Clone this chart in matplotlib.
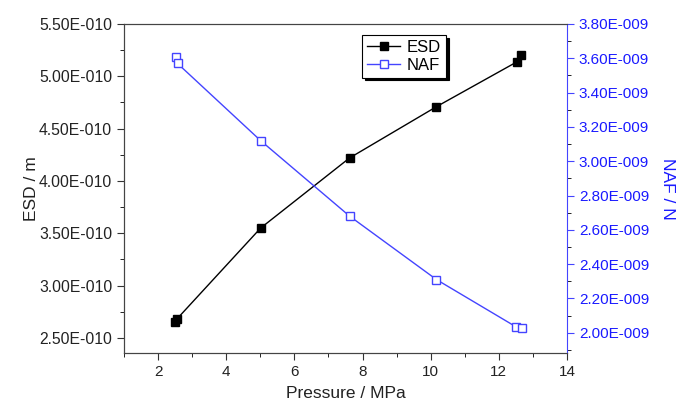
import matplotlib
matplotlib.use("Agg")
import matplotlib.pyplot as plt
from matplotlib.ticker import FixedLocator, FixedFormatter, NullFormatter

plt.rcParams['font.family'] = ['Liberation Sans', 'DejaVu Sans']

esd_x = [2.50, 2.55, 5.01, 7.62, 10.17, 12.54, 12.66]
esd_y = [2.65e-10, 2.68e-10, 3.55e-10, 4.22e-10, 4.71e-10, 5.14e-10, 5.20e-10]
naf_x = [2.52, 2.57, 5.01, 7.62, 10.17, 12.50, 12.68]
naf_y = [3.61e-9, 3.57e-9, 3.12e-9, 2.68e-9, 2.31e-9, 2.035e-9, 2.026e-9]

x_ticks = [2, 4, 6, 8, 10, 12, 14]
x_minor = [1, 3, 5, 7, 9, 11, 13]
left_ticks = [2.5e-10, 3.0e-10, 3.5e-10, 4.0e-10, 4.5e-10, 5.0e-10, 5.5e-10]
left_labels = ['2.50E-010', '3.00E-010', '3.50E-010', '4.00E-010',
               '4.50E-010', '5.00E-010', '5.50E-010']
left_minor = [2.75e-10, 3.25e-10, 3.75e-10, 4.25e-10, 4.75e-10, 5.25e-10]
right_ticks = [2.0e-9, 2.2e-9, 2.4e-9, 2.6e-9, 2.8e-9, 3.0e-9, 3.2e-9,
               3.4e-9, 3.6e-9, 3.8e-9]
right_labels = ['2.00E-009', '2.20E-009', '2.40E-009', '2.60E-009',
                '2.80E-009', '3.00E-009', '3.20E-009', '3.40E-009',
                '3.60E-009', '3.80E-009']
right_minor = [1.9e-9, 2.1e-9, 2.3e-9, 2.5e-9, 2.7e-9, 2.9e-9, 3.1e-9,
               3.3e-9, 3.5e-9, 3.7e-9]

fig = plt.figure(figsize=(6.81, 4.05), dpi=100)
ax = fig.add_axes([124/681, 1-353/405, (567-124)/681, (353-24)/405])
ax2 = ax.twinx()

blue_text = '#1a1aff'
blue_line = '#4444ff'

l1, = ax.plot(esd_x, esd_y, color='black', lw=1, marker='s', ms=5.5,
              mfc='black', mec='black', label='ESD')
l2, = ax2.plot(naf_x, naf_y, color=blue_line, lw=1, marker='s', ms=5.5,
               mfc='white', mec=blue_line, mew=1, label='NAF')

ax.set_xlim(1, 14)
ax.set_ylim(2.356e-10, 5.5e-10)
ax2.set_ylim(1.882e-9, 3.8e-9)

ax.xaxis.set_major_locator(FixedLocator(x_ticks))
ax.xaxis.set_minor_locator(FixedLocator(x_minor))
ax.yaxis.set_major_locator(FixedLocator(left_ticks))
ax.yaxis.set_major_formatter(FixedFormatter(left_labels))
ax.yaxis.set_minor_locator(FixedLocator(left_minor))
ax.yaxis.set_minor_formatter(NullFormatter())
ax2.yaxis.set_major_locator(FixedLocator(right_ticks))
ax2.yaxis.set_major_formatter(FixedFormatter(right_labels))
ax2.yaxis.set_minor_locator(FixedLocator(right_minor))
ax2.yaxis.set_minor_formatter(NullFormatter())
ax2.xaxis.set_visible(False)

for a in (ax, ax2):
    a.tick_params(which='both', direction='out', labelsize=11.3)
    a.tick_params(which='major', length=5)
    a.tick_params(which='minor', length=3)

ax.tick_params(axis='both', colors='#333333', labelcolor='#222222')
ax.tick_params(axis='x', labelsize=11)
ax2.tick_params(axis='y', colors=blue_line, labelcolor=blue_text, labelsize=11)
for s in ['left', 'bottom', 'top']:
    ax2.spines[s].set_color('#444444')
ax2.spines['right'].set_color(blue_line)
for s in ['left', 'bottom', 'top']:
    ax.spines[s].set_color('#444444')
ax.spines['right'].set_visible(False)

ax.set_xlabel('Pressure / MPa', fontsize=12.5, color='#222222', labelpad=5)
ax.set_ylabel('ESD / m', fontsize=12.5, color='#222222', labelpad=0)
ax2.set_ylabel('NAF / N', fontsize=12.5, color=blue_text, rotation=-90, labelpad=19)

leg = ax2.legend(handles=[l1, l2], loc='upper left',
                 bbox_to_anchor=((362-124)/443, (353-35)/329),
                 fontsize=12, frameon=True, fancybox=False,
                 shadow={'color': 'black', 'alpha': 1},
                 handlelength=2.0, handletextpad=0.4, borderpad=0.3,
                 labelspacing=0.15, borderaxespad=0)
leg.get_frame().set_edgecolor('black')
leg.get_frame().set_linewidth(0.8)

fig.savefig('out.png', dpi=100)
